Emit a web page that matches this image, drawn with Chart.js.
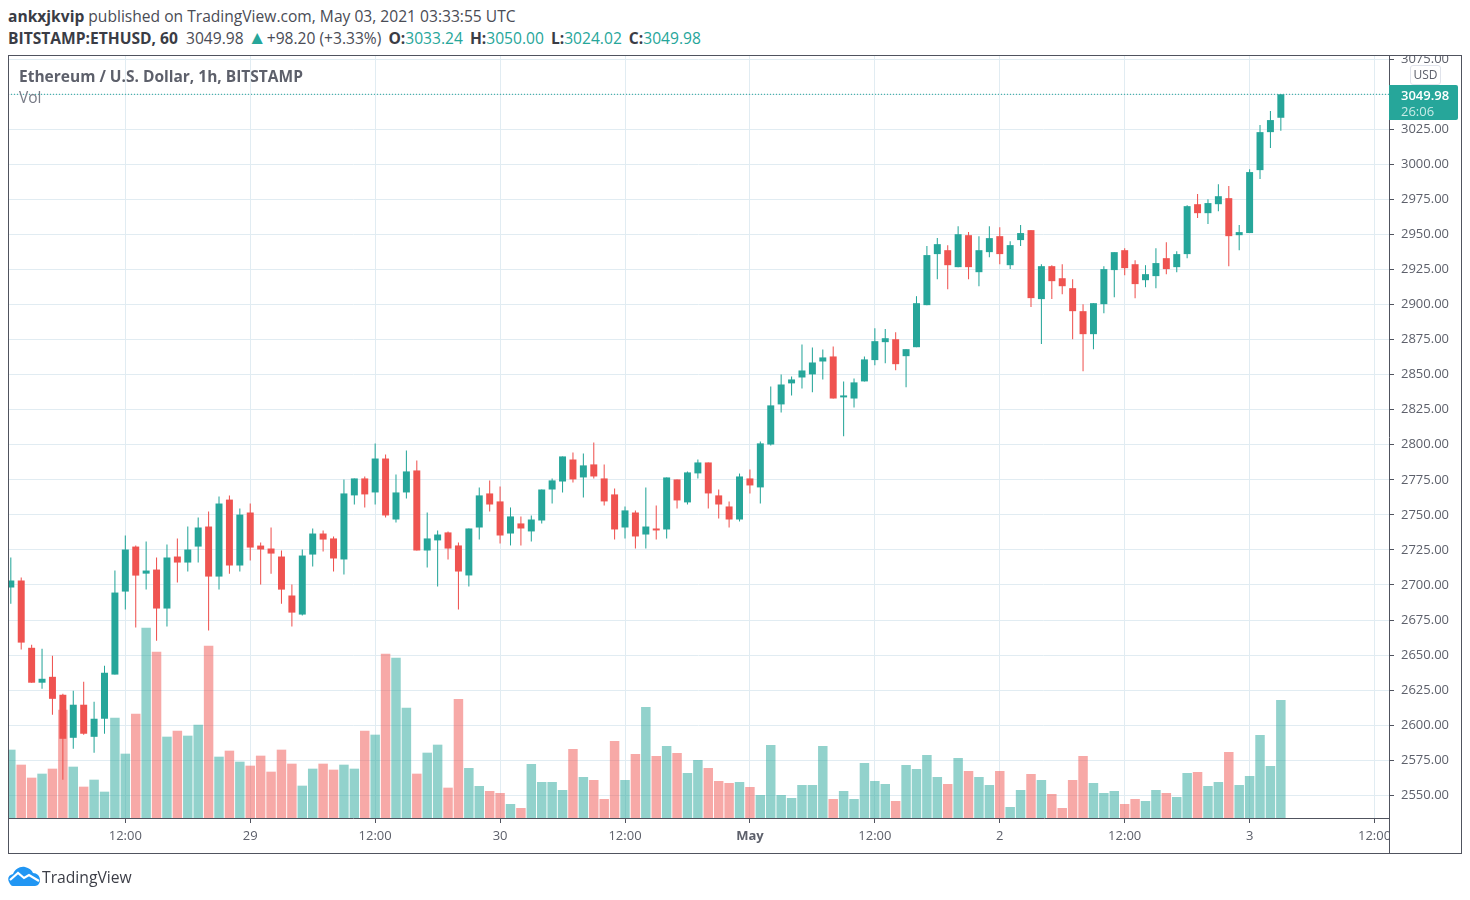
<!DOCTYPE html>
<html>
<head>
<meta charset="utf-8">
<script src="https://cdn.jsdelivr.net/npm/chart.js@4/dist/chart.umd.min.js"></script>
<style>
body { margin: 0; background: #fff; font-family: "Open Sans", sans-serif; color: #50535e; overflow: hidden; }
canvas { position: absolute; left: 0; top: 0; }
div { position: absolute; white-space: nowrap; }
b { font-weight: 700; }
#head { left: 0; top: 0; width: 1470px; height: 55px; background: #fff; }
#line1 { left: 8px; top: 6px; font-size: 15.6px; line-height: 20px; color: #4a4c55; }
#line2 { left: 8px; top: 28px; font-size: 15.6px; line-height: 20px; color: #4a4c55; }
#line1 b, #line2 b { color: #3a3c45; }
#line2 b.lbl { margin-left: 3px; }
.val { color: #26a69a; }
#arrow { display: inline-block; width: 15px; text-align: center; font-size: 19px; line-height: 18px; color: #26a69a; }
#box { left: 8px; top: 55px; width: 1454px; height: 799px; box-sizing: border-box; border: 1px solid #50535e; }
#corner { left: 1389px; top: 819px; width: 72px; height: 34px; background: #fff; border-left: 1px solid #50535e; box-sizing: border-box; }
#title { left: 19px; top: 66px; font-size: 15.5px; line-height: 20px; font-weight: 700; color: #5d606b; }
#vol { left: 19px; top: 87px; font-size: 15.5px; line-height: 20px; color: #787b86; }
#usd { left: 1410px; top: 65px; width: 31px; height: 20px; box-sizing: border-box; background: #fff; border: 1px solid #e0e3eb; border-radius: 3px; font-size: 12px; line-height: 18px; text-align: center; color: #5d606b; }
#tag { left: 1389px; top: 85px; width: 69px; height: 35px; background: #26a69a; border-radius: 0 2px 2px 0; }
#tagPrice { left: 12px; top: 2px; font-size: 13px; line-height: 17px; color: #fff; font-weight: 600; }
#tagTime { left: 12px; top: 18px; font-size: 13px; line-height: 17px; color: #c9ebe7; }
#logoText { left: 42px; top: 866px; font-size: 15.7px; line-height: 22px; color: #3c3e47; }
</style>
</head>
<body>
<canvas id="chart" width="1470" height="900"></canvas>
<div id="head">
  <div id="line1"><b>ankxjkvip</b> published on TradingView.com, May 03, 2021 03:33:55 UTC</div>
  <div id="line2"><b>BITSTAMP:ETHUSD, 60</b>&nbsp; 3049.98 <span id="arrow">▲</span> +98.20 (+3.33%) <b class="lbl">O:</b><span class="val">3033.24</span> <b class="lbl">H:</b><span class="val">3050.00</span> <b class="lbl">L:</b><span class="val">3024.02</span> <b class="lbl">C:</b><span class="val">3049.98</span></div>
</div>
<div id="box"></div>
<div id="corner"></div>
<div id="title">Ethereum / U.S. Dollar, 1h, BITSTAMP</div>
<div id="vol">Vol</div>
<div id="usd">USD</div>
<div id="tag"><div id="tagPrice">3049.98</div><div id="tagTime">26:06</div></div>
<svg style="position:absolute;left:8px;top:866px" width="33" height="20" viewBox="0 0 33 20">
  <path d="M1 16 C-1 12 1 9 5 8 C7 3 12 0 17 1 C21 2 24 4 25 7 C29 7 32 10 32 14 C32 17 30 20 27 20 L5 20 C3 20 2 18 1 16 Z" fill="#2196f3"/>
  <path d="M2 14 L10 7 L16 12 L21 9 L31 15" fill="none" stroke="#fff" stroke-width="2.2"/>
</svg>
<div id="logoText">TradingView</div>
<script>
// hourly candles, 28 Apr 01:00 to 3 May 03:00
let opens = [2698.2,2703.2,2655.2,2630.3,2634.5,2621.7,2591,2614.6,2591.7,2604.6,2636.1,2695.3,2727.4,2708.1,2711,2683.2,2720.3,2716,2727.4,2741.7,2706,2760.9,2713.9,2751.7,2728.1,2726,2720.3,2692.5,2678.9,2721.7,2736.7,2733.2,2718.2,2763.9,2776,2766,2790.2,2746.7,2766,2781.7,2724.6,2731.8,2737.5,2728.2,2706.8,2741,2765.3,2759.6,2736.7,2743.9,2738.2,2746,2768.1,2773.8,2789.5,2776.7,2786,2776,2764.6,2741,2751.7,2736,2740.3,2739.6,2775.3,2758.9,2779.6,2787.4,2763.9,2756,2746.7,2776,2769.6,2800.2,2828.8,2843.8,2848,2850.2,2859.4,2863,2833.8,2833,2845.2,2860.4,2873.2,2875.3,2863.2,2869.6,2899.6,2936,2938.8,2926.7,2949.5,2923.1,2937.4,2948.8,2928.1,2946,2953.1,2903.9,2927.4,2918.8,2911.7,2895.3,2878.9,2900.3,2924.6,2938.8,2928.8,2917.4,2920.3,2933.1,2926.7,2936,2971.6,2965.2,2971.6,2975.9,2949.5,2951,2995.9,3023,3033.24];
let highs = [2719.6,2705.3,2657.4,2654.5,2649.5,2622.4,2624.6,2631,2616.7,2642.4,2710.3,2735.3,2728.1,2731,2719.6,2728.8,2733.1,2741.7,2748.1,2752.4,2763.1,2763.8,2754.5,2758.1,2730.3,2741,2724.6,2700.3,2725.3,2740.3,2738.8,2734.6,2775.3,2776,2777.4,2801,2793.1,2778.8,2796,2788.8,2751.7,2738.9,2738.2,2730.3,2740.3,2769.6,2774.6,2770.3,2755.3,2748.9,2749.6,2768.1,2776,2791.7,2794.5,2793.8,2801.7,2786,2768.8,2756,2753.2,2769.6,2756.7,2776.7,2775.3,2781,2789.5,2787.4,2768.1,2759.6,2779.5,2782.4,2802.4,2841.6,2850.2,2848.7,2871.6,2869.4,2868,2870.1,2845.2,2847.3,2863,2883.2,2882.5,2880.3,2868.2,2906,2941.7,2947.4,2942.4,2955.9,2951.7,2948.8,2955.9,2955.2,2945.2,2956.7,2953.1,2928.8,2928.1,2928.8,2918.1,2900.3,2901,2927.4,2937.4,2940.2,2931.7,2928.1,2940.2,2944.5,2938.1,2970.9,2978.8,2975.2,2985.9,2984.5,2956.7,2996.6,3028,3038,3050];
let lows = [2686.7,2653.9,2630.3,2626,2607.4,2561,2583.2,2593.2,2580.3,2593.9,2636.1,2682.5,2669.6,2696.7,2660.3,2670.3,2701.7,2709.6,2716,2667.5,2696.7,2708.1,2709.6,2717.4,2700.3,2708.1,2686.7,2670.3,2678.2,2713.1,2723.8,2709.6,2707.5,2757.4,2755.3,2757.4,2748.2,2744.6,2761.7,2724.6,2712.5,2698.9,2718.2,2682.5,2698.9,2732.5,2752.4,2729.6,2728.2,2728.2,2731,2743.9,2758.1,2766,2773.1,2762.4,2776,2756.7,2732.5,2733.2,2726,2726,2732.5,2733.2,2754.6,2757.4,2776,2754.6,2747.4,2741,2745.3,2765.3,2758.1,2799.5,2823.1,2835.2,2840.2,2837.4,2846.6,2833,2806,2826.6,2845.2,2856.8,2858.2,2853.2,2841.1,2869.6,2899.6,2918.1,2911,2926.7,2918.1,2913.1,2933.8,2928.8,2925.3,2941.7,2898.2,2871.8,2903.9,2907.4,2875.3,2852.5,2868.2,2893.9,2905.3,2921,2904.6,2912.4,2911.7,2921.7,2923.1,2933.1,2961.7,2957.4,2966.6,2927.4,2938.8,2951,2989.5,3011.6,3024.02];
let closes = [2703.2,2658.9,2630.3,2633.1,2618.8,2590.3,2614.6,2593.9,2604.6,2637.4,2694.6,2725.3,2706.7,2710.3,2683.2,2719.6,2716,2725.3,2741,2706,2758.1,2713.9,2750.2,2726.7,2725.3,2722.4,2696.7,2680.3,2721,2736.7,2732.4,2718.9,2765.3,2776,2764.6,2790.2,2749.6,2766,2781,2724.6,2733.2,2736,2726,2709.6,2740.3,2763.9,2757.4,2735.3,2748.9,2740.3,2746.7,2768.1,2774.6,2791.7,2775.3,2785.3,2777.4,2759.6,2739.6,2753.2,2734.6,2741.7,2738.9,2776.7,2760.3,2780.3,2787.4,2765.3,2757.4,2746.7,2777.4,2771,2801,2828.1,2843,2846.6,2853,2858.7,2862.3,2833,2835.2,2844.5,2860.9,2873.9,2876,2857.5,2868.2,2901,2935.3,2943.1,2928.1,2950.2,2926.7,2938.8,2947.4,2936,2942.4,2951,2904.6,2927.4,2916.7,2913.1,2895.3,2878.9,2901,2925.3,2937.4,2926,2914.6,2921.7,2929.6,2925.3,2936,2970.2,2965.2,2972.4,2977.3,2948.8,2951.7,2994.5,3023,3031.6,3049.98];
let volumes = [205,160,121,133,148,325,154,94,115,79,301,193,313,571,499,244,262,247,280,517,184,202,169,157,187,139,205,163,97,148,163,145,160,148,262,250,493,481,331,133,196,220,91,357,150,96,81,75,42,30,162,108,108,84,207,123,114,57,231,114,192,333,186,216,195,135,174,150,111,105,108,93,69,219,69,60,99,99,216,57,81,57,165,111,102,51,159,147,189,123,102,180,141,123,99,141,33,84,132,114,72,30,114,186,105,75,81,42,57,51,84,75,63,135,138,96,108,198,99,126,249,156,354];

let priceTicks = [2550,2575,2600,2625,2650,2675,2700,2725,2750,2775,2800,2825,2850,2875,2900,2925,2950,2975,3000,3025,3050,3075];
let timeTicks = [11,23,35,47,59,71,83,95,107,119,131];
let timeLabels = ['12:00','29','12:00','30','12:00','May','12:00','2','12:00','3','12:00'];
let lastPrice = 3049.98;

let green = '#26a69a';
let red = '#ef5350';
let isUp = opens.map((o, i) => closes[i] >= o);
let candleColors = isUp.map(u => u ? green : red);
let volumeColors = isUp.map(u => u ? 'rgba(38,166,154,0.5)' : 'rgba(239,83,80,0.5)');

let xMin = -0.27, xMax = 132.39;
let fontFamily = '"Open Sans", sans-serif';

let ctx = document.getElementById('chart').getContext('2d');

let simulator = new Chart(ctx, {
    type: 'bar',
    data: {
        datasets: [
            {
                // candle bodies
                data: opens.map((o, i) => ({x: i, y: [o, closes[i]]})),
                backgroundColor: candleColors,
                grouped: false, categoryPercentage: 1, barPercentage: 0.67,
                yAxisID: 'y', order: 1
            },
            {
                // wicks
                data: lows.map((l, i) => ({x: i, y: [l, highs[i]]})),
                backgroundColor: candleColors,
                grouped: false, categoryPercentage: 1, barPercentage: 0.1,
                yAxisID: 'y', order: 2
            },
            {
                // last price line
                type: 'line',
                data: [{x: xMin, y: lastPrice}, {x: xMax, y: lastPrice}],
                borderColor: green, borderWidth: 1, borderDash: [1, 2],
                pointRadius: 0, yAxisID: 'y', order: 3
            },
            {
                data: volumes.map((v, i) => ({x: i, y: v})),
                backgroundColor: volumeColors,
                grouped: false, categoryPercentage: 1, barPercentage: 0.91,
                yAxisID: 'vol', order: 4
            }
        ]
    },
    options: {
        responsive: false,
        animation: false,
        layout: { padding: { left: 8, top: 56, right: 9, bottom: 47 } },
        plugins: { legend: { display: false }, tooltip: { enabled: false } },
        scales: {
            x: {
                type: 'linear',
                offset: false,
                min: xMin,
                max: xMax,
                afterBuildTicks: scale => { scale.ticks = timeTicks.map(v => ({value: v})); },
                afterFit: scale => { scale.height = 35; scale.paddingLeft = 0; scale.paddingRight = 0; },
                grid: { offset: false, color: '#e1ecf2', tickColor: '#50535e', tickLength: 5 },
                border: { color: '#50535e' },
                ticks: {
                    autoSkip: false, maxRotation: 0, padding: 5, color: '#5d606b',
                    font: c => ({ family: fontFamily, size: 13, weight: c.tick && c.tick.value === 71 ? 'bold' : 'normal' }),
                    callback: v => timeLabels[timeTicks.indexOf(v)]
                }
            },
            y: {
                position: 'right',
                min: 2533.8,
                max: 3077.3,
                afterBuildTicks: scale => { scale.ticks = priceTicks.map(v => ({value: v})); },
                afterFit: scale => { scale.width = 72; scale.paddingTop = 0; scale.paddingBottom = 0; },
                grid: { color: '#e1ecf2', tickColor: '#50535e', tickLength: 5 },
                border: { color: '#50535e' },
                ticks: {
                    autoSkip: false, padding: 7, color: '#5d606b',
                    font: { family: fontFamily, size: 13 },
                    callback: v => v.toFixed(2)
                }
            },
            vol: { display: false, min: 0, max: 2286 }
        }
    }
});
</script>
</body>
</html>
